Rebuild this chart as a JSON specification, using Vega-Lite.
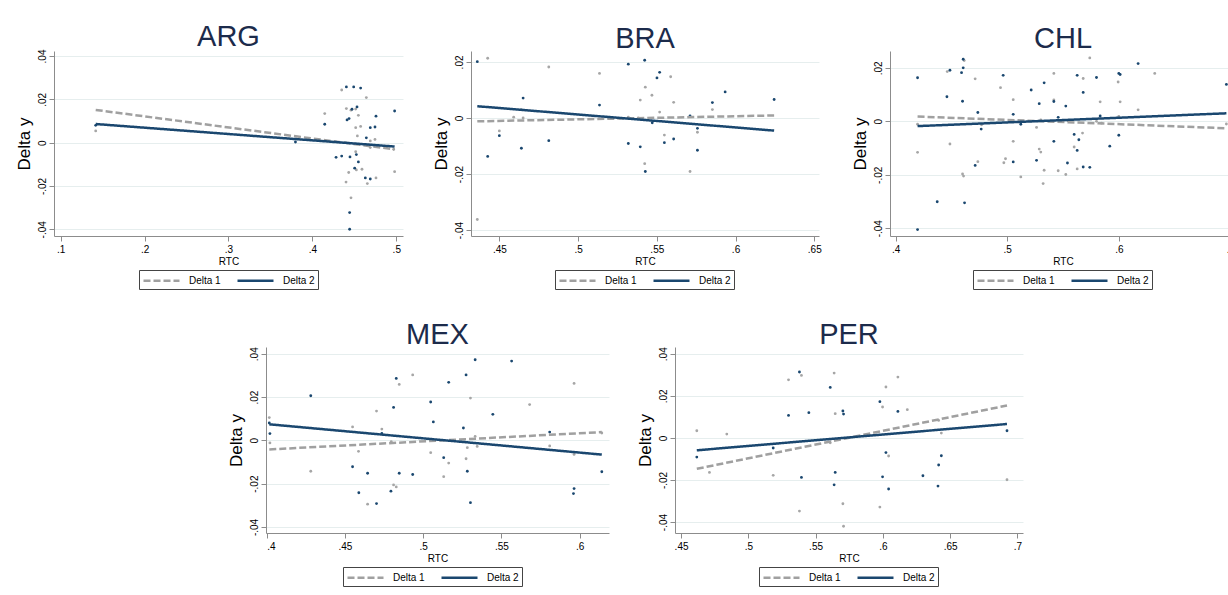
{
"$schema": "https://vega.github.io/schema/vega-lite/v6.json",
"background": "white",
"padding": {"left": 15, "top": 23, "right": 0, "bottom": 0},
"config": {
 "font": "Liberation Sans",
 "view": {"stroke": null},
 "axis": {"domainColor": "#8c8c8c", "tickColor": "#8c8c8c", "labelColor": "#000000", "titleColor": "#000000", "labelFont": "Liberation Sans", "titleFont": "Liberation Sans", "titleFontWeight": "normal", "tickSize": 5, "labelFontSize": 10},
 "axisX": {"grid": false, "titleFontSize": 10, "labelPadding": 3, "titlePadding": 2},
 "axisY": {"gridColor": "#e6eeee", "labelAngle": -90, "labelAlign": "center", "labelBaseline": "bottom", "titleFontSize": 17, "labelPadding": 2, "titlePadding": 4},
 "title": {"fontSize": 29, "fontWeight": "normal", "color": "#1c2b4b", "anchor": "middle", "offset": -3, "font": "Liberation Sans"},
 "legend": {"direction": "horizontal", "strokeColor": "#444444", "padding": 3, "symbolType": "M-3,0H3", "symbolSize": 144, "symbolOffset": 12, "symbolStrokeWidth": 2.5, "labelFontSize": 10, "labelOffset": 20, "columnPadding": 11, "labelFont": "Liberation Sans", "labelColor": "#000000"}
},
"datasets": {
"arg": [
{"series":"Delta 2","rtc":0.1417,"dy":0.0080,"kind":"point"},
{"series":"Delta 2","rtc":0.3798,"dy":0.0003,"kind":"point"},
{"series":"Delta 2","rtc":0.4147,"dy":0.0085,"kind":"point"},
{"series":"Delta 2","rtc":0.4405,"dy":0.0257,"kind":"point"},
{"series":"Delta 2","rtc":0.4492,"dy":0.0257,"kind":"point"},
{"series":"Delta 2","rtc":0.4575,"dy":0.0252,"kind":"point"},
{"series":"Delta 2","rtc":0.4472,"dy":0.0154,"kind":"point"},
{"series":"Delta 2","rtc":0.4532,"dy":0.0165,"kind":"point"},
{"series":"Delta 2","rtc":0.4413,"dy":0.0105,"kind":"point"},
{"series":"Delta 2","rtc":0.4437,"dy":0.0111,"kind":"point"},
{"series":"Delta 2","rtc":0.4758,"dy":0.0122,"kind":"point"},
{"series":"Delta 2","rtc":0.4980,"dy":0.0146,"kind":"point"},
{"series":"Delta 2","rtc":0.4690,"dy":0.0069,"kind":"point"},
{"series":"Delta 2","rtc":0.4746,"dy":0.0072,"kind":"point"},
{"series":"Delta 2","rtc":0.4643,"dy":0.0022,"kind":"point"},
{"series":"Delta 2","rtc":0.4282,"dy":-0.0068,"kind":"point"},
{"series":"Delta 2","rtc":0.4349,"dy":-0.0062,"kind":"point"},
{"series":"Delta 2","rtc":0.4448,"dy":-0.0066,"kind":"point"},
{"series":"Delta 2","rtc":0.4524,"dy":-0.0055,"kind":"point"},
{"series":"Delta 2","rtc":0.4548,"dy":-0.0089,"kind":"point"},
{"series":"Delta 2","rtc":0.4504,"dy":-0.0118,"kind":"point"},
{"series":"Delta 2","rtc":0.4631,"dy":-0.0163,"kind":"point"},
{"series":"Delta 2","rtc":0.4690,"dy":-0.0168,"kind":"point"},
{"series":"Delta 2","rtc":0.4444,"dy":-0.0323,"kind":"point"},
{"series":"Delta 2","rtc":0.4444,"dy":-0.0400,"kind":"point"},
{"series":"Delta 1","rtc":0.1417,"dy":0.0054,"kind":"point"},
{"series":"Delta 1","rtc":0.4147,"dy":0.0134,"kind":"point"},
{"series":"Delta 1","rtc":0.4349,"dy":0.0243,"kind":"point"},
{"series":"Delta 1","rtc":0.4643,"dy":0.0208,"kind":"point"},
{"series":"Delta 1","rtc":0.4405,"dy":0.0157,"kind":"point"},
{"series":"Delta 1","rtc":0.4460,"dy":0.0150,"kind":"point"},
{"series":"Delta 1","rtc":0.4516,"dy":0.0155,"kind":"point"},
{"series":"Delta 1","rtc":0.4548,"dy":0.0126,"kind":"point"},
{"series":"Delta 1","rtc":0.4516,"dy":0.0069,"kind":"point"},
{"series":"Delta 1","rtc":0.4575,"dy":0.0075,"kind":"point"},
{"series":"Delta 1","rtc":0.4536,"dy":0.0031,"kind":"point"},
{"series":"Delta 1","rtc":0.4690,"dy":0.0008,"kind":"point"},
{"series":"Delta 1","rtc":0.4746,"dy":0.0015,"kind":"point"},
{"series":"Delta 1","rtc":0.4690,"dy":-0.0023,"kind":"point"},
{"series":"Delta 1","rtc":0.4968,"dy":-0.0031,"kind":"point"},
{"series":"Delta 1","rtc":0.4516,"dy":-0.0042,"kind":"point"},
{"series":"Delta 1","rtc":0.4524,"dy":-0.0126,"kind":"point"},
{"series":"Delta 1","rtc":0.4591,"dy":-0.0123,"kind":"point"},
{"series":"Delta 1","rtc":0.4433,"dy":-0.0138,"kind":"point"},
{"series":"Delta 1","rtc":0.4980,"dy":-0.0134,"kind":"point"},
{"series":"Delta 1","rtc":0.4758,"dy":-0.0163,"kind":"point"},
{"series":"Delta 1","rtc":0.4401,"dy":-0.0182,"kind":"point"},
{"series":"Delta 1","rtc":0.4655,"dy":-0.0189,"kind":"point"},
{"series":"Delta 1","rtc":0.4460,"dy":-0.0255,"kind":"point"},
{"series":"Delta 1","rtc":0.1417,"dy":0.0151,"kind":"fit"},
{"series":"Delta 1","rtc":0.4980,"dy":-0.0031,"kind":"fit"},
{"series":"Delta 2","rtc":0.1417,"dy":0.0086,"kind":"fit"},
{"series":"Delta 2","rtc":0.4980,"dy":-0.0018,"kind":"fit"}
],
"bra": [
{"series":"Delta 2","rtc":0.436,"dy":0.0201,"kind":"point"},
{"series":"Delta 2","rtc":0.4651,"dy":0.0071,"kind":"point"},
{"series":"Delta 2","rtc":0.45,"dy":-0.0063,"kind":"point"},
{"series":"Delta 2","rtc":0.4426,"dy":-0.0137,"kind":"point"},
{"series":"Delta 2","rtc":0.464,"dy":-0.0108,"kind":"point"},
{"series":"Delta 2","rtc":0.4814,"dy":-0.0081,"kind":"point"},
{"series":"Delta 2","rtc":0.5136,"dy":0.0046,"kind":"point"},
{"series":"Delta 2","rtc":0.5319,"dy":0.0192,"kind":"point"},
{"series":"Delta 2","rtc":0.5423,"dy":0.0206,"kind":"point"},
{"series":"Delta 2","rtc":0.5518,"dy":0.0163,"kind":"point"},
{"series":"Delta 2","rtc":0.5501,"dy":0.0143,"kind":"point"},
{"series":"Delta 2","rtc":0.5471,"dy":-0.0017,"kind":"point"},
{"series":"Delta 2","rtc":0.5548,"dy":-0.0088,"kind":"point"},
{"series":"Delta 2","rtc":0.5607,"dy":-0.0075,"kind":"point"},
{"series":"Delta 2","rtc":0.5319,"dy":-0.0091,"kind":"point"},
{"series":"Delta 2","rtc":0.5395,"dy":-0.0103,"kind":"point"},
{"series":"Delta 2","rtc":0.5427,"dy":-0.0191,"kind":"point"},
{"series":"Delta 2","rtc":0.5711,"dy":0.0007,"kind":"point"},
{"series":"Delta 2","rtc":0.5758,"dy":-0.0037,"kind":"point"},
{"series":"Delta 2","rtc":0.5758,"dy":-0.0115,"kind":"point"},
{"series":"Delta 2","rtc":0.5853,"dy":0.0055,"kind":"point"},
{"series":"Delta 2","rtc":0.5934,"dy":0.0093,"kind":"point"},
{"series":"Delta 2","rtc":0.6245,"dy":0.0066,"kind":"point"},
{"series":"Delta 1","rtc":0.4426,"dy":0.0213,"kind":"point"},
{"series":"Delta 1","rtc":0.436,"dy":-0.0362,"kind":"point"},
{"series":"Delta 1","rtc":0.4814,"dy":0.0182,"kind":"point"},
{"series":"Delta 1","rtc":0.464,"dy":0.0030,"kind":"point"},
{"series":"Delta 1","rtc":0.4591,"dy":0.0003,"kind":"point"},
{"series":"Delta 1","rtc":0.4651,"dy":0.0,"kind":"point"},
{"series":"Delta 1","rtc":0.45,"dy":-0.0046,"kind":"point"},
{"series":"Delta 1","rtc":0.5136,"dy":0.0159,"kind":"point"},
{"series":"Delta 1","rtc":0.5588,"dy":0.0147,"kind":"point"},
{"series":"Delta 1","rtc":0.5427,"dy":0.0110,"kind":"point"},
{"series":"Delta 1","rtc":0.5395,"dy":0.0064,"kind":"point"},
{"series":"Delta 1","rtc":0.5469,"dy":0.0081,"kind":"point"},
{"series":"Delta 1","rtc":0.5607,"dy":0.0056,"kind":"point"},
{"series":"Delta 1","rtc":0.5518,"dy":0.0021,"kind":"point"},
{"series":"Delta 1","rtc":0.5319,"dy":0.0003,"kind":"point"},
{"series":"Delta 1","rtc":0.5382,"dy":0.0,"kind":"point"},
{"series":"Delta 1","rtc":0.5548,"dy":-0.0061,"kind":"point"},
{"series":"Delta 1","rtc":0.5423,"dy":-0.0163,"kind":"point"},
{"series":"Delta 1","rtc":0.5711,"dy":-0.0191,"kind":"point"},
{"series":"Delta 1","rtc":0.5758,"dy":-0.0051,"kind":"point"},
{"series":"Delta 1","rtc":0.5853,"dy":0.0030,"kind":"point"},
{"series":"Delta 1","rtc":0.436,"dy":-0.0012,"kind":"fit"},
{"series":"Delta 1","rtc":0.6245,"dy":0.0009,"kind":"fit"},
{"series":"Delta 2","rtc":0.436,"dy":0.0042,"kind":"fit"},
{"series":"Delta 2","rtc":0.6245,"dy":-0.0045,"kind":"fit"}
],
"chl": [
{"series":"Delta 2","rtc":0.4197,"dy":0.0163,"kind":"point"},
{"series":"Delta 2","rtc":0.4197,"dy":-0.0405,"kind":"point"},
{"series":"Delta 2","rtc":0.4373,"dy":-0.0301,"kind":"point"},
{"series":"Delta 2","rtc":0.4487,"dy":0.0191,"kind":"point"},
{"series":"Delta 2","rtc":0.446,"dy":0.0092,"kind":"point"},
{"series":"Delta 2","rtc":0.4591,"dy":0.0182,"kind":"point"},
{"series":"Delta 2","rtc":0.4606,"dy":0.0232,"kind":"point"},
{"series":"Delta 2","rtc":0.4606,"dy":0.0200,"kind":"point"},
{"series":"Delta 2","rtc":0.46,"dy":0.0075,"kind":"point"},
{"series":"Delta 2","rtc":0.4618,"dy":-0.0305,"kind":"point"},
{"series":"Delta 2","rtc":0.4737,"dy":0.0033,"kind":"point"},
{"series":"Delta 2","rtc":0.4767,"dy":-0.0029,"kind":"point"},
{"series":"Delta 2","rtc":0.4713,"dy":-0.0165,"kind":"point"},
{"series":"Delta 2","rtc":0.4964,"dy":0.0172,"kind":"point"},
{"series":"Delta 2","rtc":0.5054,"dy":0.0026,"kind":"point"},
{"series":"Delta 2","rtc":0.5054,"dy":-0.0152,"kind":"point"},
{"series":"Delta 2","rtc":0.5122,"dy":-0.0011,"kind":"point"},
{"series":"Delta 2","rtc":0.5215,"dy":0.0117,"kind":"point"},
{"series":"Delta 2","rtc":0.5287,"dy":0.0066,"kind":"point"},
{"series":"Delta 2","rtc":0.5331,"dy":0.0144,"kind":"point"},
{"series":"Delta 2","rtc":0.5263,"dy":-0.0146,"kind":"point"},
{"series":"Delta 2","rtc":0.5418,"dy":0.0074,"kind":"point"},
{"series":"Delta 2","rtc":0.5418,"dy":-0.0075,"kind":"point"},
{"series":"Delta 2","rtc":0.5457,"dy":0.0015,"kind":"point"},
{"series":"Delta 2","rtc":0.5525,"dy":0.0057,"kind":"point"},
{"series":"Delta 2","rtc":0.554,"dy":-0.0156,"kind":"point"},
{"series":"Delta 2","rtc":0.56,"dy":-0.0049,"kind":"point"},
{"series":"Delta 2","rtc":0.5627,"dy":0.0172,"kind":"point"},
{"series":"Delta 2","rtc":0.5627,"dy":-0.0109,"kind":"point"},
{"series":"Delta 2","rtc":0.5642,"dy":-0.0069,"kind":"point"},
{"series":"Delta 2","rtc":0.5681,"dy":0.0108,"kind":"point"},
{"series":"Delta 2","rtc":0.5681,"dy":-0.0171,"kind":"point"},
{"series":"Delta 2","rtc":0.574,"dy":-0.0172,"kind":"point"},
{"series":"Delta 2","rtc":0.58,"dy":0.0164,"kind":"point"},
{"series":"Delta 2","rtc":0.5833,"dy":0.002,"kind":"point"},
{"series":"Delta 2","rtc":0.5919,"dy":-0.0093,"kind":"point"},
{"series":"Delta 2","rtc":0.6,"dy":0.0179,"kind":"point"},
{"series":"Delta 2","rtc":0.6012,"dy":0.0175,"kind":"point"},
{"series":"Delta 2","rtc":0.6,"dy":-0.0052,"kind":"point"},
{"series":"Delta 2","rtc":0.6173,"dy":0.0216,"kind":"point"},
{"series":"Delta 2","rtc":0.6964,"dy":0.0138,"kind":"point"},
{"series":"Delta 1","rtc":0.4197,"dy":-0.0011,"kind":"point"},
{"series":"Delta 1","rtc":0.4197,"dy":-0.0116,"kind":"point"},
{"series":"Delta 1","rtc":0.4463,"dy":0.0186,"kind":"point"},
{"series":"Delta 1","rtc":0.4487,"dy":-0.0085,"kind":"point"},
{"series":"Delta 1","rtc":0.4615,"dy":0.0227,"kind":"point"},
{"series":"Delta 1","rtc":0.46,"dy":-0.0197,"kind":"point"},
{"series":"Delta 1","rtc":0.4609,"dy":-0.0205,"kind":"point"},
{"series":"Delta 1","rtc":0.4713,"dy":0.0159,"kind":"point"},
{"series":"Delta 1","rtc":0.477,"dy":-0.0013,"kind":"point"},
{"series":"Delta 1","rtc":0.4737,"dy":-0.0151,"kind":"point"},
{"series":"Delta 1","rtc":0.494,"dy":0.0126,"kind":"point"},
{"series":"Delta 1","rtc":0.497,"dy":-0.0155,"kind":"point"},
{"series":"Delta 1","rtc":0.4985,"dy":-0.014,"kind":"point"},
{"series":"Delta 1","rtc":0.5054,"dy":0.0081,"kind":"point"},
{"series":"Delta 1","rtc":0.5054,"dy":-0.0075,"kind":"point"},
{"series":"Delta 1","rtc":0.5122,"dy":-0.0208,"kind":"point"},
{"series":"Delta 1","rtc":0.5301,"dy":0.0005,"kind":"point"},
{"series":"Delta 1","rtc":0.5263,"dy":-0.0023,"kind":"point"},
{"series":"Delta 1","rtc":0.5287,"dy":-0.0104,"kind":"point"},
{"series":"Delta 1","rtc":0.5301,"dy":-0.0115,"kind":"point"},
{"series":"Delta 1","rtc":0.5331,"dy":-0.0183,"kind":"point"},
{"series":"Delta 1","rtc":0.5322,"dy":-0.0233,"kind":"point"},
{"series":"Delta 1","rtc":0.5418,"dy":0.0179,"kind":"point"},
{"series":"Delta 1","rtc":0.5418,"dy":0.008,"kind":"point"},
{"series":"Delta 1","rtc":0.5457,"dy":-0.0185,"kind":"point"},
{"series":"Delta 1","rtc":0.5525,"dy":-0.0199,"kind":"point"},
{"series":"Delta 1","rtc":0.5546,"dy":0.0002,"kind":"point"},
{"series":"Delta 1","rtc":0.56,"dy":-0.0096,"kind":"point"},
{"series":"Delta 1","rtc":0.5627,"dy":-0.0178,"kind":"point"},
{"series":"Delta 1","rtc":0.5681,"dy":0.016,"kind":"point"},
{"series":"Delta 1","rtc":0.5675,"dy":-0.0044,"kind":"point"},
{"series":"Delta 1","rtc":0.574,"dy":0.0237,"kind":"point"},
{"series":"Delta 1","rtc":0.5833,"dy":0.0073,"kind":"point"},
{"series":"Delta 1","rtc":0.58,"dy":0.0,"kind":"point"},
{"series":"Delta 1","rtc":0.5845,"dy":-0.0007,"kind":"point"},
{"series":"Delta 1","rtc":0.5994,"dy":0.0147,"kind":"point"},
{"series":"Delta 1","rtc":0.6012,"dy":0.0073,"kind":"point"},
{"series":"Delta 1","rtc":0.6,"dy":0.0018,"kind":"point"},
{"series":"Delta 1","rtc":0.6173,"dy":0.0043,"kind":"point"},
{"series":"Delta 1","rtc":0.6322,"dy":0.0179,"kind":"point"},
{"series":"Delta 1","rtc":0.6964,"dy":-0.001,"kind":"point"},
{"series":"Delta 1","rtc":0.4197,"dy":0.0018,"kind":"fit"},
{"series":"Delta 1","rtc":0.6964,"dy":-0.0026,"kind":"fit"},
{"series":"Delta 2","rtc":0.4197,"dy":-0.0018,"kind":"fit"},
{"series":"Delta 2","rtc":0.6964,"dy":0.003,"kind":"fit"}
],
"mex": [
{"series":"Delta 2","rtc":0.4017,"dy":0.008,"kind":"point"},
{"series":"Delta 2","rtc":0.4021,"dy":0.0031,"kind":"point"},
{"series":"Delta 2","rtc":0.4282,"dy":0.0206,"kind":"point"},
{"series":"Delta 2","rtc":0.4549,"dy":-0.0122,"kind":"point"},
{"series":"Delta 2","rtc":0.4589,"dy":-0.0242,"kind":"point"},
{"series":"Delta 2","rtc":0.4645,"dy":-0.0152,"kind":"point"},
{"series":"Delta 2","rtc":0.4702,"dy":-0.0292,"kind":"point"},
{"series":"Delta 2","rtc":0.4736,"dy":0.0032,"kind":"point"},
{"series":"Delta 2","rtc":0.4811,"dy":0.0152,"kind":"point"},
{"series":"Delta 2","rtc":0.4828,"dy":0.0286,"kind":"point"},
{"series":"Delta 2","rtc":0.4794,"dy":-0.0235,"kind":"point"},
{"series":"Delta 2","rtc":0.4847,"dy":-0.0152,"kind":"point"},
{"series":"Delta 2","rtc":0.4933,"dy":-0.0158,"kind":"point"},
{"series":"Delta 2","rtc":0.5048,"dy":0.0177,"kind":"point"},
{"series":"Delta 2","rtc":0.5065,"dy":0.0085,"kind":"point"},
{"series":"Delta 2","rtc":0.5131,"dy":-0.008,"kind":"point"},
{"series":"Delta 2","rtc":0.5163,"dy":0.0268,"kind":"point"},
{"series":"Delta 2","rtc":0.5257,"dy":0.0057,"kind":"point"},
{"series":"Delta 2","rtc":0.5274,"dy":0.0302,"kind":"point"},
{"series":"Delta 2","rtc":0.5282,"dy":-0.0143,"kind":"point"},
{"series":"Delta 2","rtc":0.5302,"dy":-0.0288,"kind":"point"},
{"series":"Delta 2","rtc":0.5332,"dy":0.0372,"kind":"point"},
{"series":"Delta 2","rtc":0.5445,"dy":0.012,"kind":"point"},
{"series":"Delta 2","rtc":0.5565,"dy":0.0366,"kind":"point"},
{"series":"Delta 2","rtc":0.5808,"dy":0.0038,"kind":"point"},
{"series":"Delta 2","rtc":0.5964,"dy":-0.0223,"kind":"point"},
{"series":"Delta 2","rtc":0.596,"dy":-0.0246,"kind":"point"},
{"series":"Delta 2","rtc":0.6141,"dy":-0.0145,"kind":"point"},
{"series":"Delta 1","rtc":0.4017,"dy":0.0105,"kind":"point"},
{"series":"Delta 1","rtc":0.4021,"dy":-0.0012,"kind":"point"},
{"series":"Delta 1","rtc":0.4282,"dy":-0.0143,"kind":"point"},
{"series":"Delta 1","rtc":0.4549,"dy":0.0062,"kind":"point"},
{"series":"Delta 1","rtc":0.4587,"dy":-0.0051,"kind":"point"},
{"series":"Delta 1","rtc":0.4645,"dy":-0.0295,"kind":"point"},
{"series":"Delta 1","rtc":0.4702,"dy":0.0135,"kind":"point"},
{"series":"Delta 1","rtc":0.4736,"dy":0.0052,"kind":"point"},
{"series":"Delta 1","rtc":0.4796,"dy":-0.0006,"kind":"point"},
{"series":"Delta 1","rtc":0.4811,"dy":-0.0206,"kind":"point"},
{"series":"Delta 1","rtc":0.4828,"dy":-0.0215,"kind":"point"},
{"series":"Delta 1","rtc":0.4847,"dy":0.0258,"kind":"point"},
{"series":"Delta 1","rtc":0.4933,"dy":0.0302,"kind":"point"},
{"series":"Delta 1","rtc":0.5048,"dy":-0.0057,"kind":"point"},
{"series":"Delta 1","rtc":0.5131,"dy":-0.0168,"kind":"point"},
{"series":"Delta 1","rtc":0.5163,"dy":-0.0105,"kind":"point"},
{"series":"Delta 1","rtc":0.5274,"dy":-0.0085,"kind":"point"},
{"series":"Delta 1","rtc":0.5282,"dy":-0.0034,"kind":"point"},
{"series":"Delta 1","rtc":0.5302,"dy":0.0195,"kind":"point"},
{"series":"Delta 1","rtc":0.5332,"dy":0.0018,"kind":"point"},
{"series":"Delta 1","rtc":0.5345,"dy":-0.0028,"kind":"point"},
{"series":"Delta 1","rtc":0.568,"dy":0.0165,"kind":"point"},
{"series":"Delta 1","rtc":0.5808,"dy":-0.0026,"kind":"point"},
{"series":"Delta 1","rtc":0.5964,"dy":0.0263,"kind":"point"},
{"series":"Delta 1","rtc":0.5964,"dy":-0.0065,"kind":"point"},
{"series":"Delta 1","rtc":0.6141,"dy":0.0034,"kind":"point"},
{"series":"Delta 1","rtc":0.4017,"dy":-0.0042,"kind":"fit"},
{"series":"Delta 1","rtc":0.6141,"dy":0.0038,"kind":"fit"},
{"series":"Delta 2","rtc":0.4017,"dy":0.0074,"kind":"fit"},
{"series":"Delta 2","rtc":0.6141,"dy":-0.0066,"kind":"fit"}
],
"per": [
{"series":"Delta 2","rtc":0.4617,"dy":-0.0091,"kind":"point"},
{"series":"Delta 2","rtc":0.5185,"dy":-0.0048,"kind":"point"},
{"series":"Delta 2","rtc":0.5299,"dy":0.0107,"kind":"point"},
{"series":"Delta 2","rtc":0.538,"dy":0.0313,"kind":"point"},
{"series":"Delta 2","rtc":0.5395,"dy":-0.0188,"kind":"point"},
{"series":"Delta 2","rtc":0.545,"dy":0.012,"kind":"point"},
{"series":"Delta 2","rtc":0.5609,"dy":0.024,"kind":"point"},
{"series":"Delta 2","rtc":0.5646,"dy":-0.0164,"kind":"point"},
{"series":"Delta 2","rtc":0.5638,"dy":-0.0223,"kind":"point"},
{"series":"Delta 2","rtc":0.5703,"dy":0.0128,"kind":"point"},
{"series":"Delta 2","rtc":0.5708,"dy":0.0113,"kind":"point"},
{"series":"Delta 2","rtc":0.5978,"dy":0.0172,"kind":"point"},
{"series":"Delta 2","rtc":0.5998,"dy":-0.0185,"kind":"point"},
{"series":"Delta 2","rtc":0.6023,"dy":-0.007,"kind":"point"},
{"series":"Delta 2","rtc":0.6043,"dy":-0.0243,"kind":"point"},
{"series":"Delta 2","rtc":0.6112,"dy":0.0126,"kind":"point"},
{"series":"Delta 2","rtc":0.6298,"dy":-0.018,"kind":"point"},
{"series":"Delta 2","rtc":0.6415,"dy":-0.0129,"kind":"point"},
{"series":"Delta 2","rtc":0.641,"dy":-0.0229,"kind":"point"},
{"series":"Delta 2","rtc":0.6435,"dy":-0.0085,"kind":"point"},
{"series":"Delta 2","rtc":0.6923,"dy":0.0034,"kind":"point"},
{"series":"Delta 1","rtc":0.4617,"dy":0.0034,"kind":"point"},
{"series":"Delta 1","rtc":0.4711,"dy":-0.0164,"kind":"point"},
{"series":"Delta 1","rtc":0.484,"dy":0.0018,"kind":"point"},
{"series":"Delta 1","rtc":0.5185,"dy":-0.0178,"kind":"point"},
{"series":"Delta 1","rtc":0.5299,"dy":0.0276,"kind":"point"},
{"series":"Delta 1","rtc":0.5395,"dy":0.0297,"kind":"point"},
{"series":"Delta 1","rtc":0.538,"dy":-0.0348,"kind":"point"},
{"series":"Delta 1","rtc":0.5609,"dy":-0.0023,"kind":"point"},
{"series":"Delta 1","rtc":0.5638,"dy":0.0308,"kind":"point"},
{"series":"Delta 1","rtc":0.5646,"dy":0.0115,"kind":"point"},
{"series":"Delta 1","rtc":0.5703,"dy":-0.0313,"kind":"point"},
{"series":"Delta 1","rtc":0.5708,"dy":-0.042,"kind":"point"},
{"series":"Delta 1","rtc":0.5998,"dy":0.0147,"kind":"point"},
{"series":"Delta 1","rtc":0.5978,"dy":-0.0329,"kind":"point"},
{"series":"Delta 1","rtc":0.6023,"dy":0.0242,"kind":"point"},
{"series":"Delta 1","rtc":0.6043,"dy":-0.0086,"kind":"point"},
{"series":"Delta 1","rtc":0.6112,"dy":0.0289,"kind":"point"},
{"series":"Delta 1","rtc":0.6182,"dy":0.0134,"kind":"point"},
{"series":"Delta 1","rtc":0.6415,"dy":0.0083,"kind":"point"},
{"series":"Delta 1","rtc":0.6435,"dy":0.0023,"kind":"point"},
{"series":"Delta 1","rtc":0.6923,"dy":-0.0199,"kind":"point"},
{"series":"Delta 1","rtc":0.4617,"dy":-0.0147,"kind":"fit"},
{"series":"Delta 1","rtc":0.6923,"dy":0.0154,"kind":"fit"},
{"series":"Delta 2","rtc":0.4617,"dy":-0.0059,"kind":"fit"},
{"series":"Delta 2","rtc":0.6923,"dy":0.0066,"kind":"fit"}
],
"none": []
},
"spacing": 30,
"resolve": {"scale": {"color": "independent", "strokeDash": "independent", "x": "independent", "y": "independent"}, "legend": {"color": "independent", "strokeDash": "independent"}},
"vconcat": [
{
"spacing": 29,
"resolve": {"scale": {"color": "independent", "strokeDash": "independent", "x": "independent", "y": "independent"}, "legend": {"color": "independent", "strokeDash": "independent"}},
"hconcat": [
{
"title": "ARG", "width": 349, "height": 185, "data": {"name": "arg"},
"encoding": {
 "x": {"field": "rtc", "type": "quantitative", "title": "RTC", "scale": {"domain": [0.092, 0.508], "nice": false, "zero": false}, "axis": {"values": [0.1, 0.2, 0.3, 0.4, 0.5], "labelExpr": "datum.value == 0 ? '0' : (datum.value < 0 ? '-' : '') + replace(format(abs(datum.value), '.2~f'), '0.', '.')"}},
 "y": {"field": "dy", "type": "quantitative", "title": "Delta y", "scale": {"domain": [-0.0431, 0.0423], "nice": false, "zero": false}, "axis": {"values": [-0.04, -0.02, 0, 0.02, 0.04], "labelExpr": "datum.value == 0 ? '0' : (datum.value < 0 ? '-' : '') + replace(format(abs(datum.value), '.2~f'), '0.', '.')"}}
},
"layer": [
 {"transform": [{"filter": "datum.kind == 'point' && datum.series == 'Delta 1'"}], "mark": {"type": "circle", "size": 8, "opacity": 1, "color": "#a6a6a6"}},
 {"transform": [{"filter": "datum.kind == 'point' && datum.series == 'Delta 2'"}], "mark": {"type": "circle", "size": 8, "opacity": 1, "color": "#1a476f"}},
 {"transform": [{"filter": "datum.kind == 'fit'"}], "mark": {"type": "line", "strokeWidth": 2.5},
  "encoding": {
   "color": {"field": "series", "type": "nominal", "scale": {"domain": ["Delta 1", "Delta 2"], "range": ["#a0a0a0", "#1a476f"]}, "legend": {"title": null, "orient": "none", "legendX": 85, "legendY": 219}},
   "strokeDash": {"field": "series", "type": "nominal", "scale": {"domain": ["Delta 1", "Delta 2"], "range": [[7, 3], [1, 0]]}, "legend": {"title": null, "orient": "none", "legendX": 85, "legendY": 219}}
  }}
]
},
{
"title": "BRA", "width": 348, "height": 185, "data": {"name": "bra"},
"encoding": {
 "x": {"field": "rtc", "type": "quantitative", "title": "RTC", "scale": {"domain": [0.432, 0.653], "nice": false, "zero": false}, "axis": {"values": [0.45, 0.5, 0.55, 0.6, 0.65], "labelExpr": "datum.value == 0 ? '0' : (datum.value < 0 ? '-' : '') + replace(format(abs(datum.value), '.2~f'), '0.', '.')"}},
 "y": {"field": "dy", "type": "quantitative", "title": "Delta y", "scale": {"domain": [-0.0421, 0.0239], "nice": false, "zero": false}, "axis": {"values": [-0.04, -0.02, 0, 0.02], "labelExpr": "datum.value == 0 ? '0' : (datum.value < 0 ? '-' : '') + replace(format(abs(datum.value), '.2~f'), '0.', '.')"}}
},
"layer": [
 {"transform": [{"filter": "datum.kind == 'point' && datum.series == 'Delta 1'"}], "mark": {"type": "circle", "size": 8, "opacity": 1, "color": "#a6a6a6"}},
 {"transform": [{"filter": "datum.kind == 'point' && datum.series == 'Delta 2'"}], "mark": {"type": "circle", "size": 8, "opacity": 1, "color": "#1a476f"}},
 {"transform": [{"filter": "datum.kind == 'fit'"}], "mark": {"type": "line", "strokeWidth": 2.5},
  "encoding": {
   "color": {"field": "series", "type": "nominal", "scale": {"domain": ["Delta 1", "Delta 2"], "range": ["#a0a0a0", "#1a476f"]}, "legend": {"title": null, "orient": "none", "legendX": 84, "legendY": 219}},
   "strokeDash": {"field": "series", "type": "nominal", "scale": {"domain": ["Delta 1", "Delta 2"], "range": [[7, 3], [1, 0]]}, "legend": {"title": null, "orient": "none", "legendX": 84, "legendY": 219}}
  }}
]
},
{
"title": "CHL", "width": 346, "height": 185, "data": {"name": "chl"},
"encoding": {
 "x": {"field": "rtc", "type": "quantitative", "title": "RTC", "scale": {"domain": [0.395, 0.705], "nice": false, "zero": false}, "axis": {"values": [0.4, 0.5, 0.6, 0.7], "labelExpr": "datum.value == 0 ? '0' : (datum.value < 0 ? '-' : '') + replace(format(abs(datum.value), '.2~f'), '0.', '.')"}},
 "y": {"field": "dy", "type": "quantitative", "title": "Delta y", "scale": {"domain": [-0.0429, 0.0263], "nice": false, "zero": false}, "axis": {"values": [-0.04, -0.02, 0, 0.02], "labelExpr": "datum.value == 0 ? '0' : (datum.value < 0 ? '-' : '') + replace(format(abs(datum.value), '.2~f'), '0.', '.')"}}
},
"layer": [
 {"transform": [{"filter": "datum.kind == 'point' && datum.series == 'Delta 1'"}], "mark": {"type": "circle", "size": 8, "opacity": 1, "color": "#a6a6a6"}},
 {"transform": [{"filter": "datum.kind == 'point' && datum.series == 'Delta 2'"}], "mark": {"type": "circle", "size": 8, "opacity": 1, "color": "#1a476f"}},
 {"transform": [{"filter": "datum.kind == 'fit'"}], "mark": {"type": "line", "strokeWidth": 2.5},
  "encoding": {
   "color": {"field": "series", "type": "nominal", "scale": {"domain": ["Delta 1", "Delta 2"], "range": ["#a0a0a0", "#1a476f"]}, "legend": {"title": null, "orient": "none", "legendX": 83, "legendY": 219}},
   "strokeDash": {"field": "series", "type": "nominal", "scale": {"domain": ["Delta 1", "Delta 2"], "range": [[7, 3], [1, 0]]}, "legend": {"title": null, "orient": "none", "legendX": 83, "legendY": 219}}
  }}
]
}
]
},
{
"spacing": 27,
"resolve": {"scale": {"color": "independent", "strokeDash": "independent", "x": "independent", "y": "independent"}, "legend": {"color": "independent", "strokeDash": "independent"}},
"hconcat": [
{
"width": 146, "height": 10, "data": {"name": "none"}, "mark": {"type": "point", "opacity": 0}
},
{
"title": "MEX", "width": 343, "height": 186, "data": {"name": "mex"},
"encoding": {
 "x": {"field": "rtc", "type": "quantitative", "title": "RTC", "scale": {"domain": [0.3996, 0.6187], "nice": false, "zero": false}, "axis": {"values": [0.4, 0.45, 0.5, 0.55, 0.6], "labelExpr": "datum.value == 0 ? '0' : (datum.value < 0 ? '-' : '') + replace(format(abs(datum.value), '.2~f'), '0.', '.')"}},
 "y": {"field": "dy", "type": "quantitative", "title": "Delta y", "scale": {"domain": [-0.0428, 0.0431], "nice": false, "zero": false}, "axis": {"values": [-0.04, -0.02, 0, 0.02, 0.04], "labelExpr": "datum.value == 0 ? '0' : (datum.value < 0 ? '-' : '') + replace(format(abs(datum.value), '.2~f'), '0.', '.')"}}
},
"layer": [
 {"transform": [{"filter": "datum.kind == 'point' && datum.series == 'Delta 1'"}], "mark": {"type": "circle", "size": 8, "opacity": 1, "color": "#a6a6a6"}},
 {"transform": [{"filter": "datum.kind == 'point' && datum.series == 'Delta 2'"}], "mark": {"type": "circle", "size": 8, "opacity": 1, "color": "#1a476f"}},
 {"transform": [{"filter": "datum.kind == 'fit'"}], "mark": {"type": "line", "strokeWidth": 2.5},
  "encoding": {
   "color": {"field": "series", "type": "nominal", "scale": {"domain": ["Delta 1", "Delta 2"], "range": ["#a0a0a0", "#1a476f"]}, "legend": {"title": null, "orient": "none", "legendX": 77, "legendY": 220}},
   "strokeDash": {"field": "series", "type": "nominal", "scale": {"domain": ["Delta 1", "Delta 2"], "range": [[7, 3], [1, 0]]}, "legend": {"title": null, "orient": "none", "legendX": 77, "legendY": 220}}
  }}
]
},
{
"title": "PER", "width": 348, "height": 186, "data": {"name": "per"},
"encoding": {
 "x": {"field": "rtc", "type": "quantitative", "title": "RTC", "scale": {"domain": [0.4455, 0.7042], "nice": false, "zero": false}, "axis": {"values": [0.45, 0.5, 0.55, 0.6, 0.65, 0.7], "labelExpr": "datum.value == 0 ? '0' : (datum.value < 0 ? '-' : '') + replace(format(abs(datum.value), '.2~f'), '0.', '.')"}},
 "y": {"field": "dy", "type": "quantitative", "title": "Delta y", "scale": {"domain": [-0.0452, 0.0432], "nice": false, "zero": false}, "axis": {"values": [-0.04, -0.02, 0, 0.02, 0.04], "labelExpr": "datum.value == 0 ? '0' : (datum.value < 0 ? '-' : '') + replace(format(abs(datum.value), '.2~f'), '0.', '.')"}}
},
"layer": [
 {"transform": [{"filter": "datum.kind == 'point' && datum.series == 'Delta 1'"}], "mark": {"type": "circle", "size": 8, "opacity": 1, "color": "#a6a6a6"}},
 {"transform": [{"filter": "datum.kind == 'point' && datum.series == 'Delta 2'"}], "mark": {"type": "circle", "size": 8, "opacity": 1, "color": "#1a476f"}},
 {"transform": [{"filter": "datum.kind == 'fit'"}], "mark": {"type": "line", "strokeWidth": 2.5},
  "encoding": {
   "color": {"field": "series", "type": "nominal", "scale": {"domain": ["Delta 1", "Delta 2"], "range": ["#a0a0a0", "#1a476f"]}, "legend": {"title": null, "orient": "none", "legendX": 84, "legendY": 220}},
   "strokeDash": {"field": "series", "type": "nominal", "scale": {"domain": ["Delta 1", "Delta 2"], "range": [[7, 3], [1, 0]]}, "legend": {"title": null, "orient": "none", "legendX": 84, "legendY": 220}}
  }}
]
}
]
}
]
}
